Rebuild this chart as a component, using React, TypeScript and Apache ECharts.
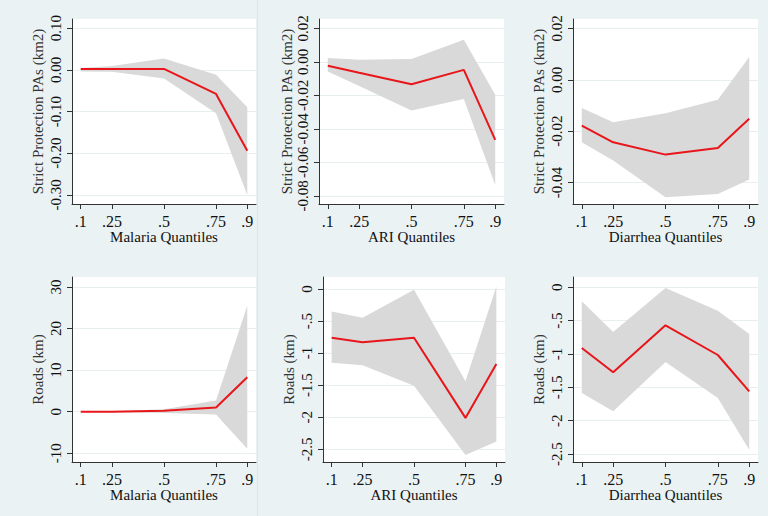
import React, { useEffect, useRef } from "react";
import * as echarts from "echarts";

const QUANTILES = [0.1, 0.25, 0.5, 0.75, 0.9];
const X_TITLES = ["Malaria Quantiles", "ARI Quantiles", "Diarrhea Quantiles"];
const Y_TITLE_TOP = "Strict Protection PAs (km2)";
const Y_TITLE_BOTTOM = "Roads (km)";

// Top row: Strict Protection PAs (km2)
const malariaPA_est = [0.002, 0.002, 0.002, -0.058, -0.194];
const malariaPA_lo = [-0.004, -0.005, -0.021, -0.104, -0.3];
const malariaPA_hi = [0.004, 0.009, 0.027, -0.012, -0.09];

const ariPA_est = [-0.0023, -0.0065, -0.0134, -0.0048, -0.0466];
const ariPA_lo = [-0.0058, -0.0144, -0.0291, -0.0221, -0.0734];
const ariPA_hi = [0.0023, 0.0012, 0.0017, 0.0131, -0.0197];

const diarPA_est = [-0.0178, -0.0243, -0.0291, -0.0265, -0.0152];
const diarPA_lo = [-0.0243, -0.0314, -0.0457, -0.0444, -0.0388];
const diarPA_hi = [-0.011, -0.0165, -0.013, -0.0078, 0.0088];

// Bottom row: Roads (km)
const malariaRd_est = [0.0, 0.0, 0.2, 1.0, 8.3];
const malariaRd_lo = [-0.1, -0.1, -0.3, -0.7, -8.9];
const malariaRd_hi = [0.1, 0.1, 0.6, 2.7, 25.5];

const ariRd_est = [-0.76, -0.83, -0.76, -2.01, -1.17];
const ariRd_lo = [-1.15, -1.19, -1.51, -2.59, -2.38];
const ariRd_hi = [-0.35, -0.45, -0.01, -1.44, 0.04];

const diarRd_est = [-0.91, -1.275, -0.57, -1.015, -1.56];
const diarRd_lo = [-1.585, -1.86, -1.12, -1.66, -2.435];
const diarRd_hi = [-0.21, -0.67, -0.01, -0.35, -0.7];

// Y tick values
const TICKS_MALARIA_PA = [-0.3, -0.2, -0.1, 0, 0.1];
const TICKS_ARI_PA = [-0.08, -0.06, -0.04, -0.02, 0, 0.02];
const TICKS_DIAR_PA = [-0.04, -0.02, 0, 0.02];
const TICKS_MALARIA_RD = [-10, 0, 10, 20, 30];
const TICKS_ARI_RD = [-2.5, -2, -1.5, -1, -0.5, 0];
const TICKS_DIAR_RD = [-2.5, -2, -1.5, -1, -0.5, 0];

const FONT = "Liberation Serif";
const TXT = "#111111";

const fmt2 = (v: number) => (Math.abs(v) < 1e-9 ? 0 : v).toFixed(2);
const fmtStata = (v: number) => {
  if (Math.abs(v) < 1e-9) return "0";
  const s = String(+v.toFixed(4));
  return s.replace(/^(-?)0\./, "$1.");
};

type Panel = {
  est: number[];
  lo: number[];
  hi: number[];
  ticks: number[];
  fmt: (v: number) => string;
  yMin: number;
  yMax: number;
  grid: { left: number; top: number; width: number; height: number };
  xTitle: string;
  yTitle: string;
  nameGap: number;
};

const panels: Panel[] = [
  {
    est: malariaPA_est, lo: malariaPA_lo, hi: malariaPA_hi, ticks: TICKS_MALARIA_PA, fmt: fmt2,
    yMin: -0.3216, yMax: 0.1216, grid: { left: 72, top: 19, width: 184, height: 185 },
    xTitle: X_TITLES[0], yTitle: Y_TITLE_TOP, nameGap: 27,
  },
  {
    est: ariPA_est, lo: ariPA_lo, hi: ariPA_hi, ticks: TICKS_ARI_PA, fmt: fmt2,
    yMin: -0.0848, yMax: 0.02555, grid: { left: 319, top: 19, width: 185, height: 185 },
    xTitle: X_TITLES[1], yTitle: Y_TITLE_TOP, nameGap: 22,
  },
  {
    est: diarPA_est, lo: diarPA_lo, hi: diarPA_hi, ticks: TICKS_DIAR_PA, fmt: fmt2,
    yMin: -0.0483, yMax: 0.02362, grid: { left: 573, top: 19, width: 185, height: 185 },
    xTitle: X_TITLES[2], yTitle: Y_TITLE_TOP, nameGap: 27,
  },
  {
    est: malariaRd_est, lo: malariaRd_lo, hi: malariaRd_hi, ticks: TICKS_MALARIA_RD, fmt: fmtStata,
    yMin: -12.1, yMax: 32.4, grid: { left: 72, top: 277, width: 184, height: 185 },
    xTitle: X_TITLES[0], yTitle: Y_TITLE_BOTTOM, nameGap: 27,
  },
  {
    est: ariRd_est, lo: ariRd_lo, hi: ariRd_hi, ticks: TICKS_ARI_RD, fmt: fmtStata,
    yMin: -2.698, yMax: 0.187, grid: { left: 323, top: 277, width: 182, height: 185 },
    xTitle: X_TITLES[1], yTitle: Y_TITLE_BOTTOM, nameGap: 27,
  },
  {
    est: diarRd_est, lo: diarRd_lo, hi: diarRd_hi, ticks: TICKS_DIAR_RD, fmt: fmtStata,
    yMin: -2.62, yMax: 0.155, grid: { left: 573, top: 277, width: 185, height: 185 },
    xTitle: X_TITLES[2], yTitle: Y_TITLE_BOTTOM, nameGap: 27,
  },
];

export default function App() {
  const ref = useRef<HTMLDivElement>(null);
  useEffect(() => {
    if (!ref.current) return;
    const chart = echarts.init(ref.current, null, { renderer: "svg" });
    const grids: any[] = [];
    const xAxes: any[] = [];
    const yAxes: any[] = [];
    const series: any[] = [];
    panels.forEach((p, i) => {
      grids.push({ ...p.grid, show: true, backgroundColor: "#ffffff", borderWidth: 0 });
      xAxes.push({
        type: "value",
        gridIndex: i,
        min: 0.058,
        max: 0.942,
        name: p.xTitle,
        nameLocation: "middle",
        nameGap: 25,
        nameTextStyle: { fontFamily: FONT, fontSize: 15, color: TXT },
        axisLine: { show: true, onZero: false, lineStyle: { color: "#333", width: 1 } },
        axisTick: { show: true, length: 5, customValues: QUANTILES, lineStyle: { color: "#333" } },
        axisLabel: {
          customValues: QUANTILES,
          fontFamily: FONT,
          fontSize: 16,
          color: TXT,
          margin: 9,
          formatter: (v: number) => String(v).replace(/^0\./, "."),
        },
        splitLine: { show: false },
      });
      yAxes.push({
        type: "value",
        gridIndex: i,
        min: p.yMin,
        max: p.yMax,
        name: p.yTitle,
        nameLocation: "middle",
        nameGap: p.nameGap,
        nameTextStyle: { fontFamily: FONT, fontSize: 15, color: "#333" },
        axisLine: { show: true, onZero: false, lineStyle: { color: "#333", width: 1 } },
        axisTick: { show: true, length: 5, customValues: p.ticks, lineStyle: { color: "#333" } },
        axisLabel: {
          customValues: p.ticks,
          rotate: 90,
          fontFamily: FONT,
          fontSize: 15,
          color: TXT,
          margin: 9,
          formatter: p.fmt,
        },
        splitLine: { show: true, lineStyle: { color: "#e8eff1", width: 1 } },
      });
      const lo = p.lo;
      const hi = p.hi;
      series.push({
        type: "custom",
        xAxisIndex: i,
        yAxisIndex: i,
        silent: true,
        z: 2,
        data: QUANTILES.map((q, k) => [q, lo[k], hi[k]]),
        encode: { x: 0, y: [1, 2] },
        renderItem: (params: any, api: any) => {
          if (params.dataIndex !== 0) return null;
          const upper = QUANTILES.map((q, k) => api.coord([q, hi[k]]));
          const lower = QUANTILES.map((q, k) => api.coord([q, lo[k]])).reverse();
          return {
            type: "polygon",
            shape: { points: upper.concat(lower) },
            style: { fill: "#d9d9d9", stroke: "none" },
          };
        },
      });
      series.push({
        type: "line",
        xAxisIndex: i,
        yAxisIndex: i,
        data: QUANTILES.map((q, k) => [q, p.est[k]]),
        symbol: "none",
        lineStyle: { color: "#e8161b", width: 2 },
        z: 3,
      });
    });
    chart.setOption({
      animation: false,
      backgroundColor: "#eaf2f3",
      grid: grids,
      xAxis: xAxes,
      yAxis: yAxes,
      series,
      graphic: [
        { type: "line", shape: { x1: 257.5, y1: 0, x2: 257.5, y2: 516 }, style: { stroke: "#dde6e8", lineWidth: 1 }, silent: true },
      ],
    });
    return () => chart.dispose();
  }, []);
  return (
    <div
      ref={ref}
      style={{ position: "fixed", left: 0, top: 0, width: 768, height: 516 }}
    />
  );
}
